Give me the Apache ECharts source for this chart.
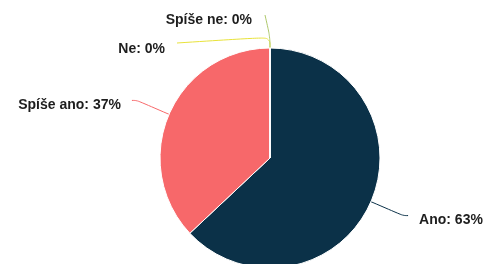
<!DOCTYPE html>
<html>
<head>
<meta charset="utf-8">
<script src="https://cdn.jsdelivr.net/npm/echarts@6/dist/echarts.min.js"></script>
<style>
  html, body { margin: 0; padding: 0; background: #fff; }
  #chart { width: 489px; height: 264px; }
</style>
</head>
<body>
<div id="chart"></div>
<script>
const categories = ["Ano", "Spíše ano", "Ne", "Spíše ne"];
const values = [63, 37, 0, 0];
const colors = ["#0b3148", "#f7686a", "#e8e23a", "#adc76a"];

let dom = document.getElementById("chart");
let myChart = echarts.init(dom, null, { renderer: "canvas" });

let seriesData = categories.map((name, i) => ({
  name: name,
  value: values[i],
  itemStyle: { color: colors[i] },
  labelLine: { lineStyle: { color: colors[i] } },
}));

// the two empty slices sit on top of each other, spread their labels by hand
function spreadZeroLabels(params) {
  if (values[params.dataIndex] !== 0) return { dy: 5 };
  if (!params.labelLinePoints) return;
  let p0 = params.labelLinePoints[0];
  let p1 = [p0[0], p0[1] - 11];
  if (categories[params.dataIndex] === "Ne") {
    return {
      x: p0[0] - 105,
      y: p0[1] + 1,
      align: "right",
      verticalAlign: "middle",
      labelLinePoints: [p0, p1, [p0[0] - 93, p0[1] - 5]],
    };
  }
  return {
    x: p0[0] - 18,
    y: p0[1] - 28,
    align: "right",
    verticalAlign: "middle",
    labelLinePoints: [p0, p1, [p0[0] - 5, p0[1] - 33]],
  };
}

let option = {
  animation: false,
  series: [
    {
      type: "pie",
      center: [270, 158],
      radius: 110,
      startAngle: 90,
      clockwise: true,
      data: seriesData,
      itemStyle: { borderColor: "#fff", borderWidth: 1 },
      label: {
        formatter: "{b}: {d}%",
        fontFamily: "Liberation Sans",
        fontWeight: "bold",
        fontSize: 14,
        color: "#1e1e1e",
        overflow: "none",
        distanceToLabelLine: 11,
      },
      labelLine: { smooth: 0.4, length: 35, length2: 5 },
      labelLayout: spreadZeroLabels,
    },
  ],
};
myChart.setOption(option);
</script>
</body>
</html>
